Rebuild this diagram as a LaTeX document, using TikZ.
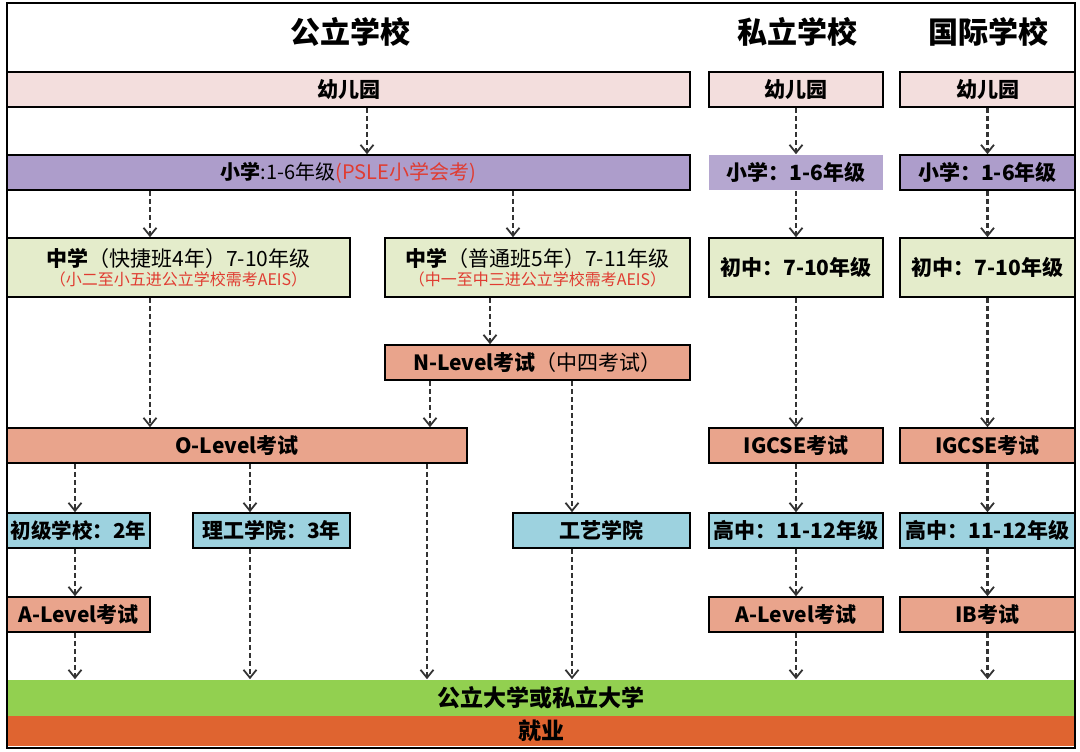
\documentclass[tikz,border=0pt]{standalone}
\usepackage{fontspec}
\setmainfont{Noto Sans CJK SC}
\usetikzlibrary{arrows.meta}

\definecolor{kgpink}{HTML}{F3DEDD}
\definecolor{pspurple}{HTML}{AD9DCB}
\definecolor{msgreen}{HTML}{E4ECCB}
\definecolor{exsalmon}{HTML}{E9A48C}
\definecolor{colblue}{HTML}{9DD2DF}
\definecolor{unigreen}{HTML}{92D050}
\definecolor{joborange}{HTML}{DF6430}
\definecolor{notered}{HTML}{E03C31}

\begin{document}
\begin{tikzpicture}[x=1pt, y=-1pt, >={Straight Barb[length=8pt,width=13pt,line width=1.8pt]},
    box/.style={draw, line width=1.6pt, inner sep=0pt, align=center,
                font=\bfseries\fontsize{21}{24}\selectfont},
    sz/.style 2 args={minimum width=#1pt, minimum height=#2pt},
    head/.style={font=\bfseries\fontsize{30}{34}\selectfont},
    flow/.style={->, dash pattern=on 5pt off 3pt, line width=2.2pt, black!80}]

    \useasboundingbox (0,0) rectangle (1080,752);

    % column headers
    \node[head]                                   (hPub)   at (350,32)      {公立学校};
    \node[head]                                   (hPri)   at (797,32)      {私立学校};
    \node[head]                                   (hInt)   at (988,32)      {国际学校};

    % kindergarten
    \node[box, sz={683}{35}, fill=kgpink]         (kgPub)  at (348.5,89.5)  {幼儿园};
    \node[box, sz={174}{35}, fill=kgpink]         (kgPri)  at (796,89.5)    {幼儿园};
    \node[box, sz={175}{35}, fill=kgpink]         (kgInt)  at (987.5,89.5)  {幼儿园};

    % primary
    \node[box, sz={683}{35}, fill=pspurple, font=\fontsize{20}{22}\selectfont]
                                                  (psPub)  at (348.5,172.5) {\textbf{小学}:1-6年级\textcolor{notered}{(PSLE小学会考)}};
    \node[box, draw=none, sz={174}{35}, fill=pspurple!90]
                                                  (psPri)  at (796,172.5)   {小学：1-6年级};
    \node[box, sz={175}{35}, fill=pspurple]       (psInt)  at (987.5,172.5) {小学：1-6年级};

    % secondary
    \node[box, sz={343}{59}, fill=msgreen, font=\fontsize{21}{24}\selectfont]
                                                  (msFast) at (178.5,267.5) {\textbf{中学}（快捷班4年）7-10年级\\[-5pt]
                                                             \textcolor{notered}{\fontsize{16}{18}\selectfont （小二至小五进公立学校需考AEIS）}};
    \node[box, sz={305}{59}, fill=msgreen, font=\fontsize{21}{24}\selectfont]
                                                  (msNorm) at (537.5,267.5) {\textbf{中学}（普通班5年）7-11年级\\[-5pt]
                                                             \textcolor{notered}{\fontsize{16}{18}\selectfont （中一至中三进公立学校需考AEIS）}};
    \node[box, sz={174}{59}, fill=msgreen]        (msPri)  at (796,267.5)   {初中：7-10年级};
    \node[box, sz={175}{59}, fill=msgreen]        (msInt)  at (987.5,267.5) {初中：7-10年级};

    % exams
    \node[box, sz={305}{35}, fill=exsalmon]       (nLvl)   at (537.5,362.5) {N-Level考试\textmd{（中四考试）}};
    \node[box, sz={460}{35}, fill=exsalmon]       (oLvl)   at (237,445.5)   {O-Level考试};
    \node[box, sz={174}{35}, fill=exsalmon]       (igPri)  at (796,445.5)   {IGCSE考试};
    \node[box, sz={175}{35}, fill=exsalmon]       (igInt)  at (987.5,445.5) {IGCSE考试};

    % colleges and high school
    \node[box, sz={143}{35}, fill=colblue, font=\bfseries\fontsize{20.5}{22}\selectfont]
                                                  (jc)     at (78.5,530.5)  {初级学校：2年};
    \node[box, sz={157}{35}, fill=colblue]        (poly)   at (271.5,530.5) {理工学院：3年};
    \node[box, sz={177}{35}, fill=colblue]        (ite)    at (601.5,530.5) {工艺学院};
    \node[box, sz={174}{35}, fill=colblue]        (hsPri)  at (796,530.5)   {高中：11-12年级};
    \node[box, sz={175}{35}, fill=colblue]        (hsInt)  at (987.5,530.5) {高中：11-12年级};

    % final exams
    \node[box, sz={143}{35}, fill=exsalmon]       (aPub)   at (78.5,614.5)  {A-Level考试};
    \node[box, sz={174}{35}, fill=exsalmon]       (aPri)   at (796,614.5)   {A-Level考试};
    \node[box, sz={175}{35}, fill=exsalmon]       (ib)     at (987.5,614.5) {IB考试};

    % university and work
    \node[box, draw=none, sz={1068}{36}, fill=unigreen, font=\bfseries\fontsize{23}{26}\selectfont]
                                                  (uni)    at (541,698)     {公立大学或私立大学};
    \node[box, draw=none, sz={1068}{30}, fill=joborange, font=\bfseries\fontsize{23}{26}\selectfont]
                                                  (job)    at (541,731)     {就业};

    % public track
    \draw[flow] (kgPub.south -| 367,0)  -- (psPub.north -| 367,0);
    \draw[flow] (psPub.south -| 150,0)  -- (msFast.north -| 150,0);
    \draw[flow] (psPub.south -| 513,0)  -- (msNorm.north -| 513,0);
    \draw[flow] (msFast.south -| 150,0) -- (oLvl.north -| 150,0);
    \draw[flow] (msNorm.south -| 490,0) -- (nLvl.north -| 490,0);
    \draw[flow] (nLvl.south -| 430,0)   -- (oLvl.north -| 430,0);
    \draw[flow] (nLvl.south -| 572,0)   -- (ite.north -| 572,0);
    \draw[flow] (oLvl.south -| 75,0)    -- (jc.north -| 75,0);
    \draw[flow] (oLvl.south -| 250,0)   -- (poly.north -| 250,0);
    \draw[flow] (oLvl.south -| 427,0)   -- (uni.north -| 427,0);
    \draw[flow] (jc.south -| 75,0)      -- (aPub.north -| 75,0);
    \draw[flow] (aPub.south -| 75,0)    -- (uni.north -| 75,0);
    \draw[flow] (poly.south -| 250,0)   -- (uni.north -| 250,0);
    \draw[flow] (ite.south -| 572,0)    -- (uni.north -| 572,0);

    % private track
    \draw[flow] (kgPri) -- (psPri);
    \draw[flow] (psPri) -- (msPri);
    \draw[flow] (msPri) -- (igPri);
    \draw[flow] (igPri) -- (hsPri);
    \draw[flow] (hsPri) -- (aPri);
    \draw[flow] (aPri.south) -- (aPri.south |- uni.north);

    % international track
    \draw[flow] (kgInt) -- (psInt);
    \draw[flow] (psInt) -- (msInt);
    \draw[flow] (msInt) -- (igInt);
    \draw[flow] (igInt) -- (hsInt);
    \draw[flow] (hsInt) -- (ib);
    \draw[flow] (ib.south) -- (ib.south |- uni.north);

    % outer frame
    \draw[line width=1.6pt] (7,3) rectangle (1075,748);
\end{tikzpicture}
\end{document}
